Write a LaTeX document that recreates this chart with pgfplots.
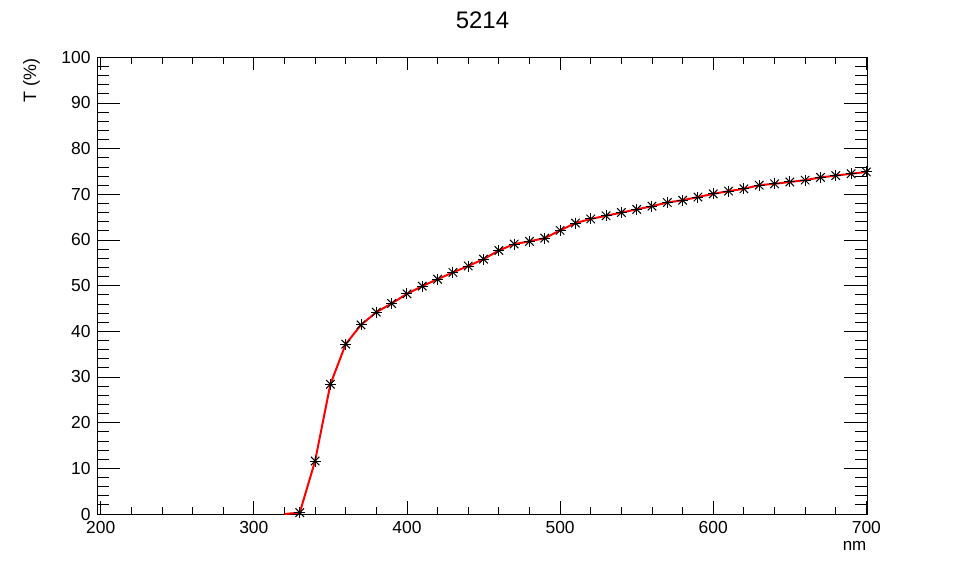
\documentclass[border=0pt]{standalone}
\usepackage{pgfplots}
\pgfplotsset{compat=1.18}
\usepackage{fontspec}
\setmainfont{Liberation Sans}
\begin{document}
\begin{tikzpicture}
\useasboundingbox (0,0) rectangle (966bp,572bp);
\begin{axis}[
  at={(97bp,58bp)}, anchor=south west,
  scale only axis, width=770bp, height=456.7bp,
  xmin=197.6, xmax=700.4, ymin=0, ymax=100,
  xtick={200,300,...,700}, ytick={0,10,...,100},
  minor x tick num=4, minor y tick num=4,
  tick pos=both, tick align=inside,
  axis line style={line width=1bp},
  every tick/.style={black, line width=0.8bp},
  xtick style={/pgfplots/major tick length=13bp, /pgfplots/minor tick length=7bp},
  ytick style={/pgfplots/major tick length=23bp, /pgfplots/minor tick length=12bp},
  /pgf/number format/assume math mode=true,
  ticklabel style={font=\fontsize{17.5}{20}\selectfont},
  xticklabel style={yshift=-4bp},
  yticklabel style={xshift=-3bp},
  clip=false,
]
\addplot[red, line width=2bp, mark=none] coordinates {
(320,0) (330,0.3) (340,11.6) (350,28.4) (360,37.2) (370,41.4) (380,44.2) (390,46.1)
(400,48.2) (410,49.9) (420,51.4) (430,52.9) (440,54.3) (450,55.8) (460,57.7) (470,59.1)
(480,59.7) (490,60.4) (500,62.1) (510,63.7) (520,64.6) (530,65.3) (540,66.0) (550,66.7)
(560,67.4) (570,68.2) (580,68.7) (590,69.4) (600,70.1) (610,70.7) (620,71.2) (630,72.0)
(640,72.3) (650,72.7) (660,73.1) (670,73.7) (680,74.1) (690,74.5) (700,74.9)
};
\addplot[black, only marks, mark=+, mark size=5.5bp, mark options={line width=1bp}] coordinates {
(330,0.3) (340,11.6) (350,28.4) (360,37.2) (370,41.4) (380,44.2) (390,46.1)
(400,48.2) (410,49.9) (420,51.4) (430,52.9) (440,54.3) (450,55.8) (460,57.7) (470,59.1)
(480,59.7) (490,60.4) (500,62.1) (510,63.7) (520,64.6) (530,65.3) (540,66.0) (550,66.7)
(560,67.4) (570,68.2) (580,68.7) (590,69.4) (600,70.1) (610,70.7) (620,71.2) (630,72.0)
(640,72.3) (650,72.7) (660,73.1) (670,73.7) (680,74.1) (690,74.5) (700,74.9)
};
\addplot[black, only marks, mark=x, mark size=6bp, mark options={line width=1bp}] coordinates {
(330,0.3) (340,11.6) (350,28.4) (360,37.2) (370,41.4) (380,44.2) (390,46.1)
(400,48.2) (410,49.9) (420,51.4) (430,52.9) (440,54.3) (450,55.8) (460,57.7) (470,59.1)
(480,59.7) (490,60.4) (500,62.1) (510,63.7) (520,64.6) (530,65.3) (540,66.0) (550,66.7)
(560,67.4) (570,68.2) (580,68.7) (590,69.4) (600,70.1) (610,70.7) (620,71.2) (630,72.0)
(640,72.3) (650,72.7) (660,73.1) (670,73.7) (680,74.1) (690,74.5) (700,74.9)
};
\end{axis}
\node[anchor=base, inner sep=0pt, font=\fontsize{24}{28}\selectfont] at (482.5bp,543.7bp) {5214};
\node[anchor=base east, inner sep=0pt, rotate=90, font=\fontsize{18}{21}\selectfont] at (36bp,514bp) {T (\%)};
\node[anchor=base east, inner sep=0pt, font=\fontsize{17}{20}\selectfont] at (866.5bp,22bp) {nm};
\end{tikzpicture}
\end{document}
